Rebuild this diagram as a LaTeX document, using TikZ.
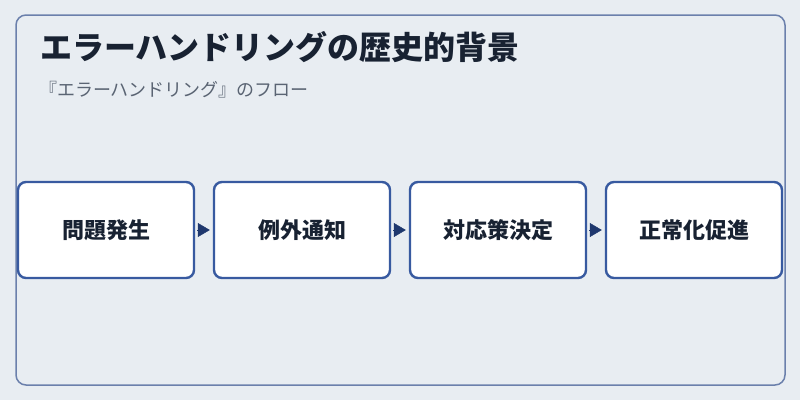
\documentclass[tikz,border=0pt]{standalone}
\usepackage{fontspec}
\usepackage{xcolor}
\usepackage{tikz}
\usetikzlibrary{positioning,arrows.meta}
\newfontfamily\jpfont{Noto Sans CJK JP}
\definecolor{pagebg}{RGB}{232,237,242}
\definecolor{framecol}{RGB}{107,128,172}
\definecolor{boxline}{RGB}{56,90,160}
\definecolor{arrowcol}{RGB}{31,56,110}
\definecolor{titlecol}{RGB}{24,34,50}
\definecolor{subcol}{RGB}{90,100,115}

\begin{document}
\begin{tikzpicture}[x=1pt, y=-1pt,
    stepbox/.style={draw=boxline, line width=2.4pt, fill=white, rounded corners=8pt,
        minimum width=176pt, minimum height=96pt, inner sep=0pt,
        font=\jpfont\bfseries\fontsize{22}{26}\selectfont, text=titlecol},
    flow/.style={draw=arrowcol, fill=arrowcol, line width=0.4pt,
        -{Triangle[length=12pt, width=14pt]}, shorten <=2pt, shorten >=3pt}]
    % Background and frame
    \useasboundingbox[fill=pagebg] (0,0) rectangle (800,400);
    \draw[framecol, line width=1.5pt, rounded corners=10pt] (16,15) rectangle (785,385);

    % Title
    \node[anchor=base west, inner sep=0pt, text=titlecol,
        font=\jpfont\bfseries\fontsize{32}{38}\selectfont] (title) at (40,59.5)
        {エラーハンドリングの歴史的背景};
    \node[anchor=base west, inner sep=0pt, text=subcol,
        font=\jpfont\fontsize{18}{22}\selectfont] (subtitle) at (39,96)
        {『エラーハンドリング』のフロー};

    % Steps
    \node[stepbox] (s1) at (106,230) {問題発生};
    \node[stepbox, right=17.6pt of s1] (s2) {例外通知};
    \node[stepbox, right=17.6pt of s2] (s3) {対応策決定};
    \node[stepbox, right=17.6pt of s3] (s4) {正常化促進};

    % Arrows
    \foreach \a/\b in {s1/s2, s2/s3, s3/s4}
        \draw[flow] (\a.east) -- (\b.west);
\end{tikzpicture}
\end{document}
